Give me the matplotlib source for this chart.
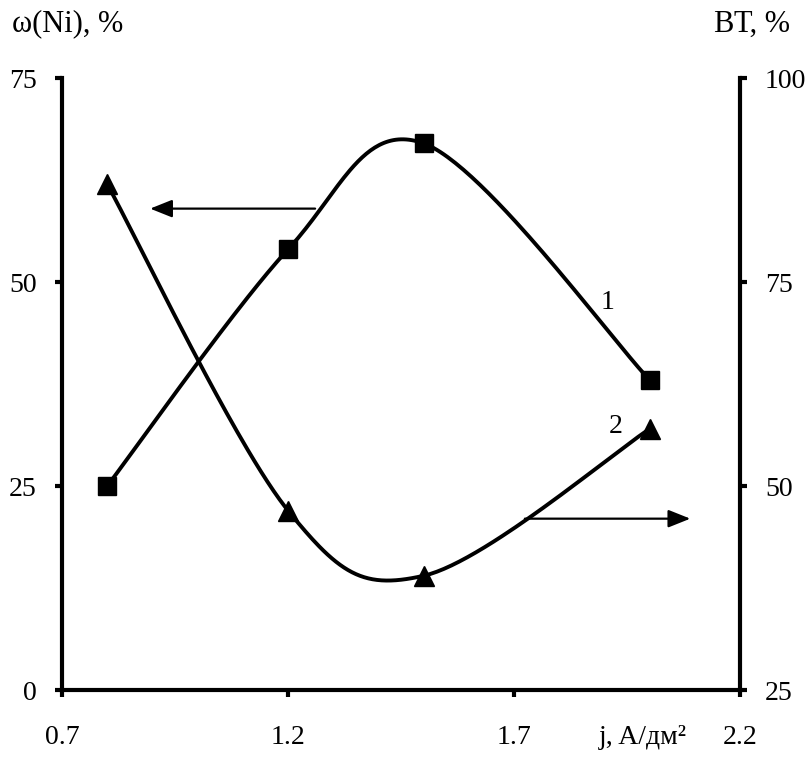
import numpy as np
import matplotlib
matplotlib.use("Agg")
import matplotlib.pyplot as plt

plt.rcParams['font.family'] = ['Liberation Serif', 'DejaVu Serif']

# current density, A/dm2
j = [0.8, 1.2, 1.5, 2.0]
ni_content = [25, 54, 67, 38]      # curve 1, left axis
current_eff = [87, 47, 39, 57]     # curve 2, right axis

x_ticks = [0.7, 1.2, 1.7, 2.2]
left_ticks = [0, 25, 50, 75]
right_ticks = [25, 50, 75, 100]

# arrows: (start x, y) -> (end x), y in each axis' own units
arrow1 = (1.26, 59, 0.895)
arrow2 = (1.724, 46, 2.09)


def smooth(xs, ys, xlim, ylim, n=60):
    # excel-like smoothed line, computed in axes fraction units
    px = (np.asarray(xs, float) - xlim[0]) / (xlim[1] - xlim[0])
    py = (np.asarray(ys, float) - ylim[0]) / (ylim[1] - ylim[0])
    P = np.column_stack([px, py])
    P = np.vstack([P[0], P, P[-1]])
    out = []
    t = np.linspace(0, 1, n)[:, None]
    for i in range(1, len(P) - 2):
        p0, p1, p2, p3 = P[i - 1], P[i], P[i + 1], P[i + 2]
        c1 = p1 + (p2 - p0) / 6
        c2 = p2 - (p3 - p1) / 6
        seg = ((1 - t) ** 3) * p1 + 3 * ((1 - t) ** 2) * t * c1 + 3 * (1 - t) * t ** 2 * c2 + t ** 3 * p2
        out.append(seg)
    out = np.vstack(out)
    return (out[:, 0] * (xlim[1] - xlim[0]) + xlim[0],
            out[:, 1] * (ylim[1] - ylim[0]) + ylim[0])


fig = plt.figure(figsize=(8.07, 7.58), dpi=100)
ax = fig.add_axes([0.0768, 0.0897, 0.917 - 0.0768, 0.897 - 0.0897])
ax2 = ax.twinx()

xlim = (0.7, 2.2)
ax.set_xlim(*xlim)
ax.set_ylim(0, 75)
ax2.set_ylim(25, 100)

sx, sy = smooth(j, ni_content, xlim, (0, 75))
ax.plot(sx, sy, color='black', lw=2.8, solid_capstyle='round')
ax.plot(j, ni_content, 's', color='black', ms=13, clip_on=False)

sx, sy = smooth(j, current_eff, xlim, (25, 100))
ax2.plot(sx, sy, color='black', lw=2.8, solid_capstyle='round')
ax2.plot(j, current_eff, '^', color='black', ms=14, clip_on=False)

astyle = '-|>,head_length=0.45,head_width=0.18'
ax.annotate('', xy=(arrow1[2], arrow1[1]), xytext=(arrow1[0], arrow1[1]),
            arrowprops=dict(arrowstyle=astyle, color='black', lw=1.6,
                            mutation_scale=30, shrinkA=0, shrinkB=0))
ax2.annotate('', xy=(arrow2[2], arrow2[1]), xytext=(arrow2[0], arrow2[1]),
             arrowprops=dict(arrowstyle=astyle, color='black', lw=1.6,
                             mutation_scale=30, shrinkA=0, shrinkB=0))

ax.text(1.906, 47.5, '1', fontsize=20, ha='center', va='center')
ax.text(1.926, 32.3, '2', fontsize=20, ha='center', va='center')

for a in (ax, ax2):
    a.spines['top'].set_visible(False)
    for s in ('left', 'right', 'bottom'):
        a.spines[s].set_linewidth(3)

ax.spines['right'].set_visible(False)
ax2.spines['left'].set_visible(False)
ax2.spines['bottom'].set_visible(False)

ax.set_xticks(x_ticks)
ax.set_xticklabels(['0.7', '1.2', '1.7', '2.2'])
ax.set_yticks(left_ticks)
ax2.set_yticks(right_ticks)

ax.tick_params(axis='x', direction='out', length=5, width=3, labelsize=20, pad=20)
ax.tick_params(axis='y', direction='out', length=5, width=3, labelsize=20, pad=13)
ax2.tick_params(axis='y', direction='out', length=5, width=3, labelsize=20, pad=13)

fig.text(12 / 807, 1 - 24 / 758, 'ω(Ni), %', fontsize=22, ha='left', va='center')
fig.text(790 / 807, 1 - 24 / 758, 'ВТ, %', fontsize=22, ha='right', va='center')
fig.text(643 / 807, 1 - 737 / 758, 'j, A/дм²', fontsize=20, ha='center', va='center')

fig.savefig('out.png', dpi=100)
